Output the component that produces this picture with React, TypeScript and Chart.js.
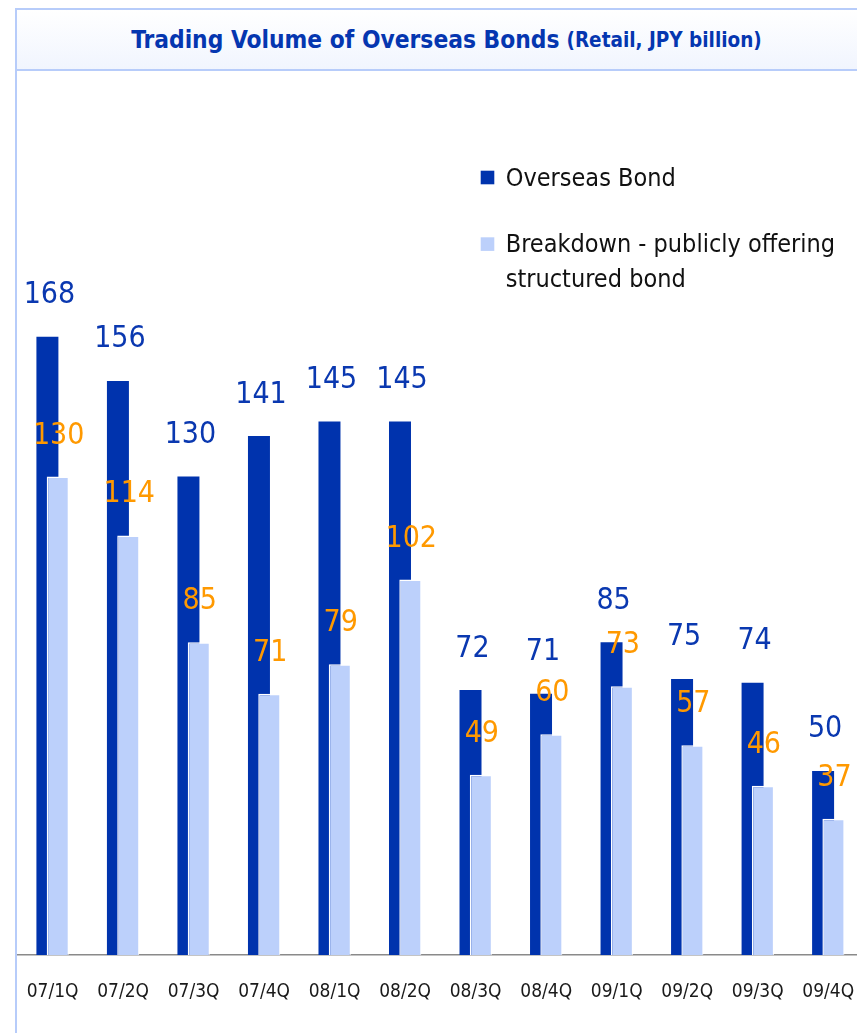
import React, { useEffect, useRef } from 'react';
import { Chart, registerables } from 'chart.js';

Chart.register(...registerables);

const categories = ['07/1Q', '07/2Q', '07/3Q', '07/4Q', '08/1Q', '08/2Q', '08/3Q', '08/4Q', '09/1Q', '09/2Q', '09/3Q', '09/4Q'];
const overseasBond = [168, 156, 130, 141, 145, 145, 72, 71, 85, 75, 74, 50];
const structuredBond = [130, 114, 85, 71, 79, 102, 49, 60, 73, 57, 46, 37];
const seriesNames = ['Overseas Bond', 'Breakdown - publicly offering structured bond'];
const legendLines = [['Overseas Bond'], ['Breakdown - publicly offering', 'structured bond']];
const titleMain = 'Trading Volume of Overseas Bonds';
const titleSub = '(Retail, JPY billion)';

const FONT = '"DejaVu Sans Condensed", "DejaVu Sans", sans-serif';
const DARK = '#0033ad';
const LIGHT = '#bcd0fb';
const ORANGE = '#ff9900';
const LABEL_DARK = '#0a38b0';
const FRAME = '#b7ccfa';

const overlayPlugin = {
  id: 'overlay',
  beforeDatasetDraw(chart: any, args: any) {
    if (args.index === 1) return false;
    return true;
  },
  afterDatasetsDraw(chart: any) {
    const ctx = chart.ctx;
    const lightMeta = chart.getDatasetMeta(1);
    lightMeta.data.forEach((el: any) => el.draw(ctx));

    ctx.save();
    ctx.font = `30px ${FONT}`;
    ctx.textAlign = 'center';
    ctx.textBaseline = 'alphabetic';
    const darkMeta = chart.getDatasetMeta(0);
    ctx.fillStyle = LABEL_DARK;
    darkMeta.data.forEach((el: any, i: number) => {
      ctx.fillText(String(chart.data.datasets[0].data[i]), el.x + 2, el.y - 33.5);
    });
    ctx.fillStyle = ORANGE;
    lightMeta.data.forEach((el: any, i: number) => {
      ctx.fillText(String(chart.data.datasets[1].data[i]), el.x + 1, el.y - 33);
    });
    ctx.restore();
  },
  afterDraw(chart: any) {
    const ctx = chart.ctx;
    ctx.save();
    ctx.font = `25px ${FONT}`;
    ctx.textAlign = 'left';
    ctx.textBaseline = 'alphabetic';
    const colors = [DARK, LIGHT];
    const boxTops = [170.7, 237.3];
    legendLines.forEach((lines, k) => {
      ctx.fillStyle = colors[k];
      ctx.fillRect(480.7, boxTops[k], 13.6, 13.6);
      ctx.fillStyle = '#111111';
      lines.forEach((line, j) => {
        ctx.fillText(line, 505.7, boxTops[k] + 15 + j * 35);
      });
    });
    ctx.restore();
  },
};

export default function App() {
  const canvasRef = useRef<HTMLCanvasElement | null>(null);

  useEffect(() => {
    if (!canvasRef.current) return;
    const chart = new Chart(canvasRef.current, {
      type: 'bar',
      data: {
        labels: categories,
        datasets: [
          {
            label: seriesNames[0],
            data: overseasBond,
            backgroundColor: DARK,
            borderWidth: 0,
          },
          {
            label: seriesNames[1],
            data: structuredBond,
            backgroundColor: LIGHT,
            borderColor: '#ffffff',
            borderWidth: { top: 1.5, left: 1.5, right: 1, bottom: 0 } as any,
            borderSkipped: false as any,
          },
        ],
      },
      options: {
        animation: false,
        responsive: false,
        maintainAspectRatio: false,
        layout: { padding: { left: 17.3, right: 0.5, top: 0, bottom: 0 } },
        datasets: { bar: { categoryPercentage: 0.292, barPercentage: 2.136 } },
        plugins: {
          legend: { display: false },
          tooltip: { enabled: false },
          title: { display: false },
        },
        scales: {
          x: {
            type: 'category',
            grid: {
              display: true,
              drawOnChartArea: false,
              drawTicks: true,
              tickLength: 26,
              color: 'rgba(0,0,0,0)',
            },
            border: { display: true, color: '#8a8a8a', width: 1.5 },
            ticks: {
              color: '#1a1a1a',
              font: { family: FONT, size: 19 },
              padding: 0,
              maxRotation: 0,
              autoSkip: false,
            },
            afterFit: (scale: any) => {
              scale.height = 78;
            },
          },
          y: { display: false, min: 0, max: 259.5 },
        },
      },
      plugins: [overlayPlugin as any],
    });
    return () => chart.destroy();
  }, []);

  return (
    <div style={{ position: 'absolute', left: 0, top: 0, width: 857, height: 1033, overflow: 'hidden', background: '#ffffff' }}>
      <div
        style={{
          position: 'absolute',
          left: 15,
          top: 8,
          width: 861,
          height: 63,
          boxSizing: 'border-box',
          borderTop: `2px solid ${FRAME}`,
          borderLeft: `2px solid ${FRAME}`,
          borderBottom: `2px solid ${FRAME}`,
          background: 'linear-gradient(to bottom, #ffffff, #f1f5fe)',
          display: 'flex',
          alignItems: 'center',
          justifyContent: 'center',
          fontFamily: FONT,
          fontWeight: 'bold',
          color: '#0536b0',
          whiteSpace: 'nowrap',
        }}
      >
        <span style={{ fontSize: 24.3 }}>{titleMain}</span>
        <span style={{ fontSize: 20.5, marginLeft: 7 }}>{titleSub}</span>
      </div>
      <div style={{ position: 'absolute', left: 15, top: 70, width: 2, height: 963, background: FRAME }} />
      <canvas ref={canvasRef} width={864} height={1033} style={{ position: 'absolute', left: 0, top: 0 }} />
    </div>
  );
}
